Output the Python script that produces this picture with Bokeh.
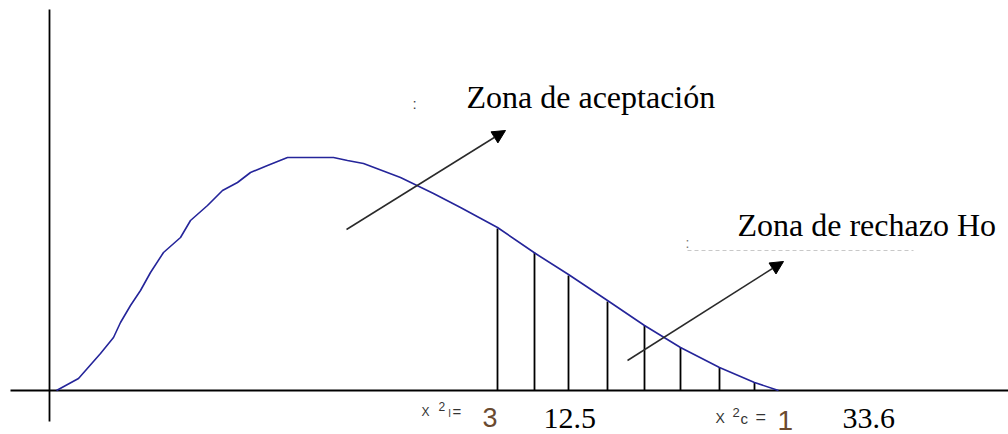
from bokeh.plotting import figure
from bokeh.models import Range1d, Arrow, NormalHead, Label
from bokeh.embed import file_html
from bokeh.resources import INLINE

# ---- data ----
curve_x = [0.7, 2.9, 5.1, 6.4, 7.1, 8.1, 9.1, 10.1, 11.4, 13.1, 14.1, 15.8, 17.3, 18.8,
           20.1, 21.8, 23.8, 28.4, 29.8, 31.4, 35.1, 38.4, 41.1, 44.8, 48.6, 51.9,
           55.8, 59.5, 63.1, 67.0, 70.5, 72.9]
curve_y = [0.0, 1.2, 3.7, 5.3, 6.8, 8.5, 10.0, 11.8, 13.8, 15.3, 17.0, 18.5, 20.0, 20.8,
           21.8, 22.5, 23.3, 23.3, 23.0, 22.7, 21.3, 19.7, 18.3, 16.3, 13.7, 11.6,
           9.0, 6.5, 4.3, 2.3, 0.8, 0.0]

hatch_x = [44.8, 48.5, 51.9, 55.8, 59.5, 63.1, 67.0, 70.5]
hatch_top = [16.2, 13.8, 11.5, 8.9, 6.5, 4.3, 2.3, 0.8]

zone_labels = ["Zona de aceptación", "Zona de rechazo Ho"]
value_labels = ["12.5", "33.6"]

# ---- figure ----
p = figure(width=1008, height=434, x_range=Range1d(-4.9, 95.9), y_range=Range1d(-4.4, 39.0),
           output_backend="svg", toolbar_location=None, min_border=0,
           x_axis_location=None, y_axis_location=None)
p.grid.visible = False
p.outline_line_color = None
p.background_fill_color = "white"
p.border_fill_color = "white"

# axes drawn as lines crossing at the origin
p.segment(x0=[-3.9, 0.0], y0=[0.0, 38.1], x1=[95.9, 0.0], y1=[0.0, -3.1],
          line_color="black", line_width=1.8)

# hatching under the rejection tail
p.segment(x0=hatch_x, y0=[0.0] * len(hatch_x), x1=hatch_x, y1=hatch_top,
          line_color="black", line_width=1.8)

# distribution curve
p.line(curve_x, curve_y, line_color="#25259a", line_width=1.6)

# arrows
for xs, ys, xe, ye in [(29.7, 16.1, 45.6, 26.0), (57.8, 3.0, 73.4, 12.9)]:
    p.add_layout(Arrow(end=NormalHead(size=13, fill_color="black", line_color="black"),
                       x_start=xs, y_start=ys, x_end=xe, y_end=ye,
                       line_color="#2a2a2a", line_width=1.5))

serif = "Liberation Serif"
sans = "Liberation Sans"
narrow = "'Liberation Sans Narrow', 'Liberation Sans'"

p.add_layout(Label(x=41.7, y=27.6, text=zone_labels[0], text_font=serif,
                   text_font_size="32px", text_color="black"))
p.add_layout(Label(x=68.8, y=14.8, text=zone_labels[1], text_font=serif,
                   text_font_size="32px", text_color="black"))

# faint remnants of covered text
p.add_layout(Label(x=36.3, y=27.9, text=":", text_font=sans, text_font_size="15px",
                   text_color="#444444"))
p.add_layout(Label(x=63.6, y=14.0, text=":", text_font=sans, text_font_size="14px",
                   text_color="#777777"))
p.segment(x0=[63.8], y0=[14.0], x1=[86.4], y1=[14.0], line_color="#c8c8c8",
          line_width=1.2, line_dash="4 3")

# critical values
p.add_layout(Label(x=49.4, y=-3.7, text=value_labels[0], text_font=serif,
                   text_font_size="30px", text_color="black"))
p.add_layout(Label(x=79.3, y=-3.7, text=value_labels[1], text_font=serif,
                   text_font_size="30px", text_color="black"))

# small chi-square labels
for x, y, t, f, s, c in [
    (37.2, -2.8, "X", sans, "12px", "#333333"),
    (38.9, -2.0, "2", sans, "12px", "#333333"),
    (39.9, -2.8, "l", sans, "10px", "#333333"),
    (40.3, -2.95, "=", sans, "15px", "#333333"),
    (43.3, -3.6, "3", narrow, "27px", "#6a4a30"),
    (66.6, -3.5, "X", sans, "14px", "#333333"),
    (68.3, -2.6, "2", sans, "13px", "#333333"),
    (69.1, -3.6, "c", sans, "15px", "#333333"),
    (70.6, -3.6, "=", sans, "18px", "#333333"),
    (72.8, -3.9, "1", narrow, "28px", "#6a4a30"),
]:
    p.add_layout(Label(x=x, y=y, text=t, text_font=f, text_font_size=s, text_color=c))

open("out.html", "w").write(file_html(p, INLINE))
